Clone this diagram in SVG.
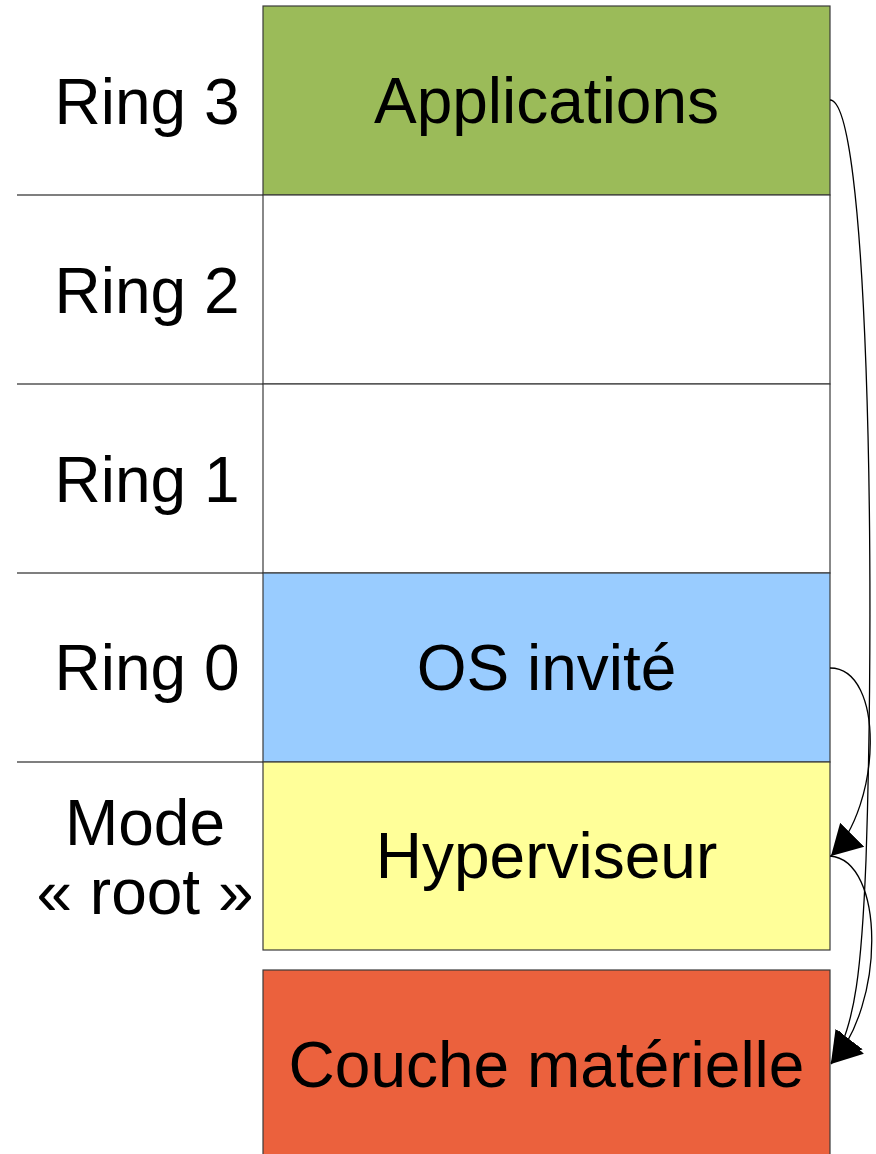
<svg xmlns="http://www.w3.org/2000/svg" width="876" height="1154" viewBox="0 0 876 1154">
<style>
text{font-family:"Liberation Sans",Arial,sans-serif;font-size:64px;fill:#000;text-anchor:middle}
.box{stroke:#3a3a3a;stroke-width:1.2}
.sep{stroke:#000;stroke-width:1.2}
.conn{fill:none;stroke:#000;stroke-width:1.3}
</style>
<defs>
<marker id="arr" markerUnits="userSpaceOnUse" markerWidth="34" markerHeight="36" refX="30" refY="17" orient="auto" viewBox="0 0 34 34">
<path d="M0,0 L30,17 L0,34 Z" fill="#000"/>
</marker>
</defs>
<rect width="876" height="1154" fill="#fff"/>
<g id="separators">
<line class="sep" x1="17" y1="195" x2="263" y2="195"/>
<line class="sep" x1="17" y1="384" x2="263" y2="384"/>
<line class="sep" x1="17" y1="573" x2="263" y2="573"/>
<line class="sep" x1="17" y1="762" x2="263" y2="762"/>
</g>
<g id="ring3">
<rect class="box" x="263" y="6" width="567" height="189" fill="#9BBB59"/>
<text x="147" y="124">Ring 3</text>
<text x="546.5" y="123">Applications</text>
</g>
<g id="ring2">
<rect class="box" x="263" y="195" width="567" height="189" fill="#fff"/>
<text x="147" y="313">Ring 2</text>
</g>
<g id="ring1">
<rect class="box" x="263" y="384" width="567" height="189" fill="#fff"/>
<text x="147" y="502">Ring 1</text>
</g>
<g id="ring0">
<rect class="box" x="263" y="573" width="567" height="189" fill="#99CCFF"/>
<text x="147" y="690">Ring 0</text>
<text x="546.5" y="690">OS invité</text>
</g>
<g id="hyperviseur">
<rect class="box" x="263" y="762" width="567" height="188" fill="#FFFF99"/>
<text x="145" y="845">Mode</text>
<text x="145" y="914">« root »</text>
<text x="546.5" y="878">Hyperviseur</text>
</g>
<g id="materiel">
<rect class="box" x="263" y="970" width="567" height="190" fill="#EB613D"/>
<text x="546.5" y="1087">Couche matérielle</text>
</g>
<g id="connectors">
<path class="conn" d="M830,100 C868,100 876,560 866,860 C862,960 856,1030 831,1063" marker-end="url(#arr)"/>
<path class="conn" d="M830,668 C885,668 882,805 831,856" marker-end="url(#arr)"/>
<path class="conn" d="M830,856 C885,860 886,1005 831,1064" marker-end="url(#arr)"/>
</g>
</svg>
